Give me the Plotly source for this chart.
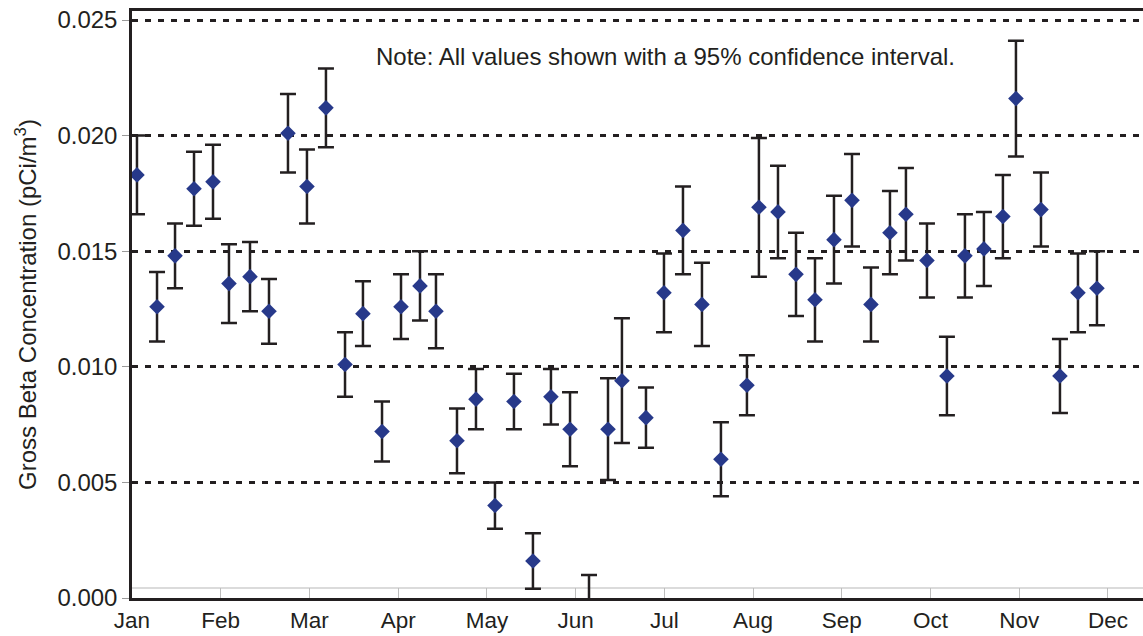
import plotly.graph_objects as go

# Sample positions in month units (0 = Jan tick, 1 = Feb tick, ...)
sample_pos = [0.056, 0.282, 0.485, 0.699, 0.913, 1.093, 1.330, 1.544, 1.758, 1.972,
              2.186, 2.401, 2.603, 2.818, 3.032, 3.246, 3.426, 3.663, 3.877, 4.091,
              4.305, 4.519, 4.722, 4.937, 5.151, 5.365, 5.522, 5.793, 5.996, 6.210,
              6.424, 6.638, 6.931, 7.066, 7.281, 7.484, 7.698, 7.912, 8.115, 8.329,
              8.543, 8.723, 8.960, 9.185, 9.388, 9.602, 9.816, 9.963, 10.245, 10.459,
              10.662, 10.876]

concentration = [0.0183, 0.0126, 0.0148, 0.0177, 0.0180, 0.0136, 0.0139, 0.0124, 0.0201, 0.0178,
                 0.0212, 0.0101, 0.0123, 0.0072, 0.0126, 0.0135, 0.0124, 0.0068, 0.0086, 0.0040,
                 0.0085, 0.0016, 0.0087, 0.0073, -0.0004, 0.0073, 0.0094, 0.0078, 0.0132, 0.0159,
                 0.0127, 0.0060, 0.0092, 0.0169, 0.0167, 0.0140, 0.0129, 0.0155, 0.0172, 0.0127,
                 0.0158, 0.0166, 0.0146, 0.0096, 0.0148, 0.0151, 0.0165, 0.0216, 0.0168, 0.0096,
                 0.0132, 0.0134]

upper_ci = [0.0200, 0.0141, 0.0162, 0.0193, 0.0196, 0.0153, 0.0154, 0.0138, 0.0218, 0.0194,
            0.0229, 0.0115, 0.0137, 0.0085, 0.0140, 0.0150, 0.0140, 0.0082, 0.0099, 0.0050,
            0.0097, 0.0028, 0.0099, 0.0089, 0.0010, 0.0095, 0.0121, 0.0091, 0.0149, 0.0178,
            0.0145, 0.0076, 0.0105, 0.0199, 0.0187, 0.0158, 0.0147, 0.0174, 0.0192, 0.0143,
            0.0176, 0.0186, 0.0162, 0.0113, 0.0166, 0.0167, 0.0183, 0.0241, 0.0184, 0.0112,
            0.0149, 0.0150]

lower_ci = [0.0166, 0.0111, 0.0134, 0.0161, 0.0164, 0.0119, 0.0124, 0.0110, 0.0184, 0.0162,
            0.0195, 0.0087, 0.0109, 0.0059, 0.0112, 0.0120, 0.0108, 0.0054, 0.0073, 0.0030,
            0.0073, 0.0004, 0.0075, 0.0057, -0.0018, 0.0051, 0.0067, 0.0065, 0.0115, 0.0140,
            0.0109, 0.0044, 0.0079, 0.0139, 0.0147, 0.0122, 0.0111, 0.0136, 0.0152, 0.0111,
            0.0140, 0.0146, 0.0130, 0.0079, 0.0130, 0.0135, 0.0147, 0.0191, 0.0152, 0.0080,
            0.0115, 0.0118]

month_labels = ["Jan", "Feb", "Mar", "Apr", "May", "Jun", "Jul", "Aug", "Sep", "Oct", "Nov", "Dec"]
y_ticks = [0.000, 0.005, 0.010, 0.015, 0.020, 0.025]

err_plus = [u - v for u, v in zip(upper_ci, concentration)]
err_minus = [v - l for v, l in zip(concentration, lower_ci)]

FONT = "Liberation Sans, Arial, sans-serif"
TXT = "#231f20"

fig = go.Figure()
fig.add_trace(go.Scatter(
    x=sample_pos, y=concentration, mode="markers",
    marker=dict(symbol="diamond", size=12, color="#27398a", line=dict(width=0)),
    error_y=dict(type="data", symmetric=False, array=err_plus, arrayminus=err_minus,
                 color="#231f20", thickness=2.5, width=8),
    showlegend=False,
))

fig.update_layout(
    width=1143, height=636,
    margin=dict(l=132, r=0, t=11, b=38),
    paper_bgcolor="white", plot_bgcolor="white",
    font=dict(family=FONT, size=22, color=TXT),
    xaxis=dict(
        range=[0, 11.395], tickmode="array",
        tickvals=list(range(len(month_labels))), ticktext=month_labels,
        showgrid=False, zeroline=False,
        showline=True, linecolor=TXT, linewidth=2.5, mirror=True,
        ticks="inside", ticklen=10, tickcolor="#bdbdbd", tickwidth=1.2,
        tickfont=dict(size=22.5, color=TXT),
    ),
    yaxis=dict(
        range=[0, 0.02539], tickmode="array", tickvals=y_ticks,
        tickformat=".3f",
        showgrid=True, gridcolor=TXT, gridwidth=2.5, griddash="6px,7px",
        zeroline=False,
        showline=True, linecolor=TXT, linewidth=2.5, mirror=False,
        ticks="outside", ticklen=7, tickcolor="#9a9a9a", tickwidth=1.2,
        tickfont=dict(size=24, color=TXT),
        title=dict(text="Gross Beta Concentration (pCi/m<sup>3</sup>)",
                   font=dict(size=24, color=TXT), standoff=14),
    ),
    shapes=[dict(type="line", xref="paper", yref="paper", x0=0, x1=1,
                 y0=10/587, y1=10/587, line=dict(color="#cfcfcf", width=1.5), layer="below")],
    annotations=[dict(text="Note: All values shown with a 95% confidence interval.",
                      xref="paper", yref="paper", x=0.528, y=0.9233,
                      showarrow=False, font=dict(size=24, color=TXT),
                      xanchor="center", yanchor="middle")],
)

fig.write_html("out.html", config={"displayModeBar": False},
               post_script="document.body.style.margin='0';document.body.style.padding='0';")
